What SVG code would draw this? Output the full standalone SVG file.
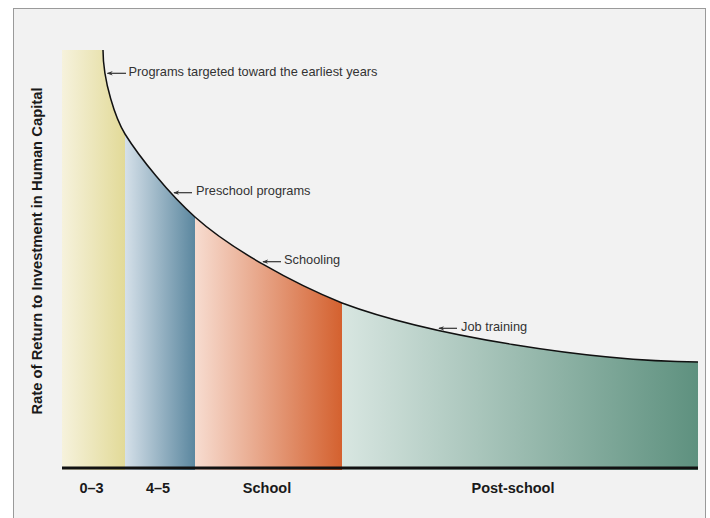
<svg xmlns="http://www.w3.org/2000/svg" width="710" height="518" viewBox="0 0 710 518">
<defs>
<style>
.lbl{font-family:"Liberation Sans",Arial,sans-serif;font-size:12.8px;fill:#333}
.ax{font-family:"Liberation Sans",Arial,sans-serif;font-size:14.5px;font-weight:bold;fill:#1a1a1a;text-anchor:middle}
.arr{stroke:#333;stroke-width:1.2;fill:none}
</style>
<marker id="ah" viewBox="0 0 8 6" refX="7" refY="3" markerWidth="6" markerHeight="4.5" orient="auto" markerUnits="userSpaceOnUse">
<path d="M8,3 L0,0 L2.5,3 L0,6 Z" fill="#333"/>
</marker>
<linearGradient id="gY" x1="0" x2="1" y1="0" y2="0"><stop offset="0" stop-color="#f6f2dc"/><stop offset="1" stop-color="#e2da98"/></linearGradient>
<linearGradient id="gB" x1="0" x2="1" y1="0" y2="0"><stop offset="0" stop-color="#d5e0e9"/><stop offset="1" stop-color="#5b879f"/></linearGradient>
<linearGradient id="gO" x1="0" x2="1" y1="0" y2="0"><stop offset="0" stop-color="#f7dcd0"/><stop offset="1" stop-color="#d4612f"/></linearGradient>
<linearGradient id="gG" x1="0" x2="1" y1="0" y2="0"><stop offset="0" stop-color="#d8e6e1"/><stop offset="1" stop-color="#5e917f"/></linearGradient>
<clipPath id="under">
<path d="M62,470 L62,50 L103,50 C103,82 116,119.5 125,134 C139,156.5 169,194 195,217 C230,248.5 293,283.4 342,303 C430,336 590,361 698,362 L698,470 Z"/>
</clipPath>
</defs>
<rect x="0" y="0" width="710" height="518" fill="#ffffff"/>
<rect x="13.5" y="8.5" width="692" height="520" fill="#f2f2f2" stroke="#9a9a9a" stroke-width="1"/>

<g id="regions" clip-path="url(#under)">
<g id="r-0-3"><rect x="62" y="40" width="63" height="430" fill="url(#gY)"/></g>
<g id="r-4-5"><rect x="125" y="40" width="70" height="430" fill="url(#gB)"/></g>
<g id="r-school"><rect x="195" y="40" width="147" height="430" fill="url(#gO)"/></g>
<g id="r-post"><rect x="342" y="40" width="356" height="430" fill="url(#gG)"/></g>
</g>

<g id="curve">
<path d="M103,50 C103,82 116,119.5 125,134 C139,156.5 169,194 195,217 C230,248.5 293,283.4 342,303 C430,336 590,361 698,362" fill="none" stroke="#111" stroke-width="1.5"/>
</g>

<g id="axis">
<line x1="62" y1="468" x2="698" y2="468" stroke="#111" stroke-width="3"/>
</g>

<g id="connectors">
<line class="arr" x1="126" y1="73.3" x2="107.5" y2="73.3" marker-end="url(#ah)"/>
<line class="arr" x1="192" y1="192.7" x2="174" y2="192.7" marker-end="url(#ah)"/>
<line class="arr" x1="281" y1="261.7" x2="263" y2="261.7" marker-end="url(#ah)"/>
<line class="arr" x1="457" y1="328.3" x2="439" y2="328.3" marker-end="url(#ah)"/>
</g>

<g id="label-earliest"><text class="lbl" x="128.5" y="76">Programs targeted toward the earliest years</text></g>
<g id="label-preschool"><text class="lbl" x="196" y="194.5">Preschool programs</text></g>
<g id="label-schooling"><text class="lbl" x="284" y="263.5">Schooling</text></g>
<g id="label-job"><text class="lbl" x="461" y="330.5">Job training</text></g>

<g id="xlabels">
<text class="ax" x="91.5" y="492.5">0–3</text>
<text class="ax" x="158" y="492.5">4–5</text>
<text class="ax" x="267" y="492.5">School</text>
<text class="ax" x="513" y="492.5">Post-school</text>
</g>
<g id="ylabel">
<text class="ax" transform="translate(41.5,251) rotate(-90)" style="font-size:14.8px">Rate of Return to Investment in Human Capital</text>
</g>
</svg>
